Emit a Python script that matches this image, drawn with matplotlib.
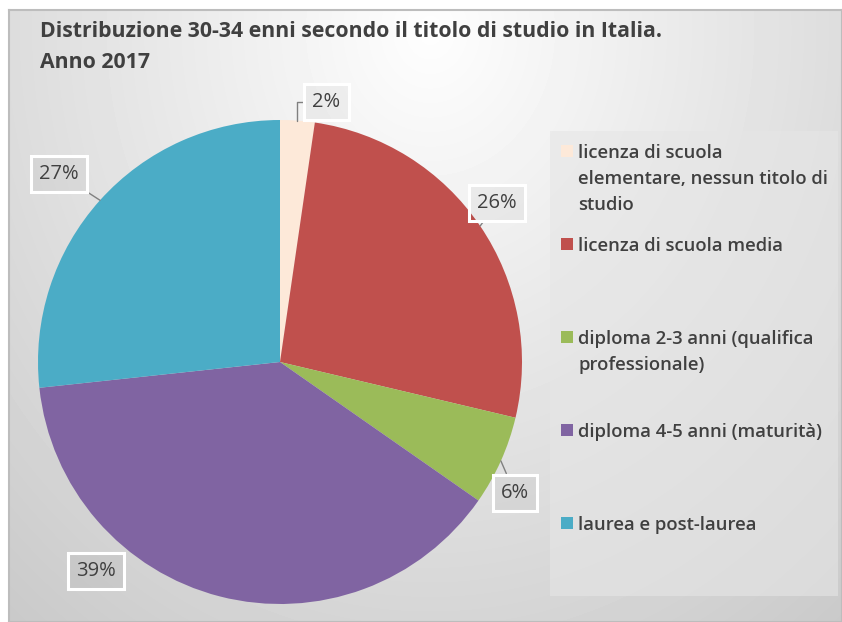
import numpy as np
import matplotlib
matplotlib.use("Agg")
import matplotlib.pyplot as plt
from matplotlib.patches import Rectangle

# dati
categorie = [
    "licenza di scuola\nelementare, nessun titolo di\nstudio",
    "licenza di scuola media",
    "diploma 2-3 anni (qualifica\nprofessionale)",
    "diploma 4-5 anni (maturità)",
    "laurea e post-laurea",
]
percentuali = [2.3, 26.4, 6.0, 38.6, 26.7]
etichette = ["2%", "26%", "6%", "39%", "27%"]
colori = ["#FDE9D9", "#C0504D", "#9BBB59", "#8064A2", "#4BACC6"]

titolo = "Distribuzione 30-34 enni secondo il titolo di studio in Italia.\nAnno 2017"

# posizione etichette (raggio, spostamento angolare in gradi)
label_r = [1.09, 1.11, 1.11, 1.15, 1.20]
label_shift = [-6, 2, -5, -27, 1.5]

plt.rcParams['font.family'] = ['Open Sans', 'DejaVu Sans']
testo = '#404040'

W, H = 842, 622
fig = plt.figure(figsize=(W / 100, H / 100), dpi=100)

# sfondo sfumato
bg = fig.add_axes([9 / W, 0, 1 - 9 / W, 1 - 10 / H])
yy, xx = np.mgrid[10:H, 9:W]
d = np.sqrt(((xx - 430) / 600.0) ** 2 + ((yy - 30) / 700.0) ** 2)
g = np.clip(254 - 48 * d, 0, 255) / 255.0
bg.imshow(g, cmap='gray', vmin=0, vmax=1, aspect='auto', interpolation='bilinear')
bg.set_xticks([])
bg.set_yticks([])
for s in bg.spines.values():
    s.set_color('#BDBDBD')
    s.set_linewidth(1.5)

# titolo
fig.text(40 / W, 1 - 47 / H, titolo, fontsize=15.3, weight='bold', color=testo,
         va='center', ha='left', linespacing=1.62)

# torta
cx, cy, R = 280, 362, 242
ax = fig.add_axes([(cx - R) / W, (H - cy - R) / H, 2 * R / W, 2 * R / H])
wedges, _ = ax.pie(percentuali, colors=colori, startangle=90, counterclock=False,
                   radius=1, wedgeprops=dict(linewidth=0))
ax.set_xlim(-1, 1)
ax.set_ylim(-1, 1)

for i, w in enumerate(wedges):
    theta = np.deg2rad((w.theta1 + w.theta2) / 2)
    a = theta + np.deg2rad(label_shift[i])
    r = label_r[i]
    box = dict(boxstyle='square,pad=0.4', fc=(0, 0, 0, 0.035), ec='white', lw=2.2)
    if i == 3:
        ax.text(r * np.cos(a), r * np.sin(a), etichette[i], ha='center', va='center',
                fontsize=14.5, color=testo, bbox=box)
        continue
    cs = "angle,angleA=0,angleB=90,rad=0" if i == 0 else "arc3"
    ax.annotate(etichette[i], xy=(np.cos(theta), np.sin(theta)),
                xytext=(r * np.cos(a), r * np.sin(a)), ha='center', va='center',
                fontsize=14.5, color=testo, bbox=box, annotation_clip=False,
                arrowprops=dict(arrowstyle='-', color='#808080', lw=1,
                                shrinkA=0, shrinkB=0, connectionstyle=cs))

# legenda
lg = fig.add_axes([550 / W, (H - 596) / H, 288 / W, 465 / H])
lg.set_xlim(0, 1)
lg.set_ylim(0, 1)
lg.patch.set_facecolor('#E6E6E6')
lg.patch.set_alpha(0.6)
lg.set_xticks([])
lg.set_yticks([])
for s in lg.spines.values():
    s.set_visible(False)
for i, lab in enumerate(categorie):
    y = 1 - 20 / 465 - i * 93 / 465
    lg.add_patch(Rectangle((11 / 288, y - 6 / 465), 12 / 288, 12 / 465,
                           fc=colori[i], ec='none'))
    lg.text(28 / 288, y + 7 / 465, lab, ha='left', va='top', fontsize=13.3,
            color=testo, weight='semibold', linespacing=1.58)

fig.savefig("out.png", dpi=100)
